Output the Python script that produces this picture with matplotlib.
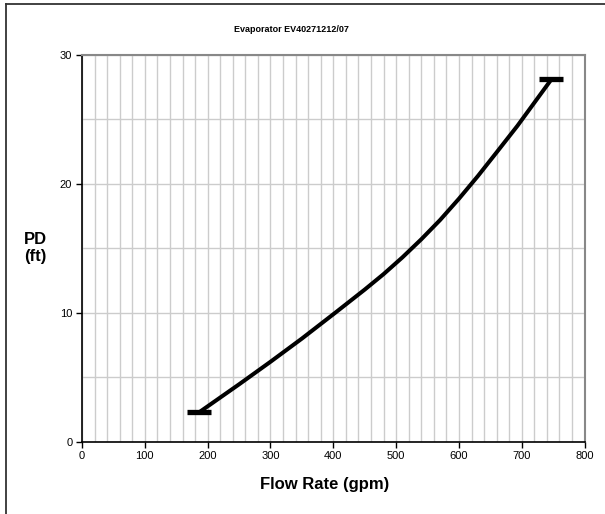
import matplotlib
matplotlib.use("Agg")
import matplotlib.pyplot as plt
from matplotlib.ticker import MultipleLocator
from matplotlib.lines import Line2D

plt.rcParams['font.family'] = ['Liberation Sans', 'DejaVu Sans']

# Values
flow_gpm = [187, 250, 300, 350, 403, 450, 480, 510, 540, 570, 600, 630, 660, 693, 747]
pd_ft = [2.3, 4.45, 6.2, 8.0, 10.0, 11.8, 13.0, 14.3, 15.7, 17.2, 18.85, 20.6, 22.45, 24.5, 28.1]

title = "Evaporator EV40271212/07"
x_label = "Flow Rate (gpm)"
y_label = "PD\n(ft)"

fig = plt.figure(figsize=(6.05, 5.14), dpi=100)
ax = fig.add_axes([82 / 605, 1 - 441.7 / 514, (584.6 - 82) / 605, (441.7 - 55) / 514])

grid_c = '#cccccc'
ax.plot(flow_gpm, pd_ft, color='black', lw=2.9, solid_capstyle='butt',
        solid_joinstyle='round',
        marker='_', markersize=17, markeredgewidth=3.8, markevery=[0, -1], zorder=3)

ax.set_xlim(0, 800)
ax.set_ylim(0, 30)
ax.xaxis.set_major_locator(MultipleLocator(100))
ax.xaxis.set_minor_locator(MultipleLocator(20))
ax.yaxis.set_major_locator(MultipleLocator(10))
ax.yaxis.set_minor_locator(MultipleLocator(5))
ax.grid(True, which='both', color=grid_c, lw=1.0)
ax.set_axisbelow(True)

ax.tick_params(which='major', direction='out', length=4, width=1, labelsize=8,
               color='black', pad=3)
ax.tick_params(which='minor', length=0)
for s in ['left', 'bottom']:
    ax.spines[s].set_color('black')
    ax.spines[s].set_linewidth(1.2)
for s in ['top', 'right']:
    ax.spines[s].set_color('#888888')
    ax.spines[s].set_linewidth(1.5)

fig.text(291 / 605, 1 - 30 / 514, title, ha='center', va='center',
         fontsize=6.5, fontweight='bold')
fig.text(325 / 605, 1 - 485 / 514, x_label, ha='center', va='center',
         fontsize=12, fontweight='bold')
fig.text(35 / 605, 1 - 248 / 514, y_label, ha='center', va='center',
         fontsize=12, fontweight='bold', linespacing=1.1)

# chart area border (left and top visible)
fx = 5.7 / 605
fy = 1 - 4.3 / 514
fig.add_artist(Line2D([fx, fx], [0, fy], transform=fig.transFigure, color='#333333', lw=1.3))
fig.add_artist(Line2D([fx, 1], [fy, fy], transform=fig.transFigure, color='#333333', lw=1.3))

fig.savefig("out.png", dpi=100)
